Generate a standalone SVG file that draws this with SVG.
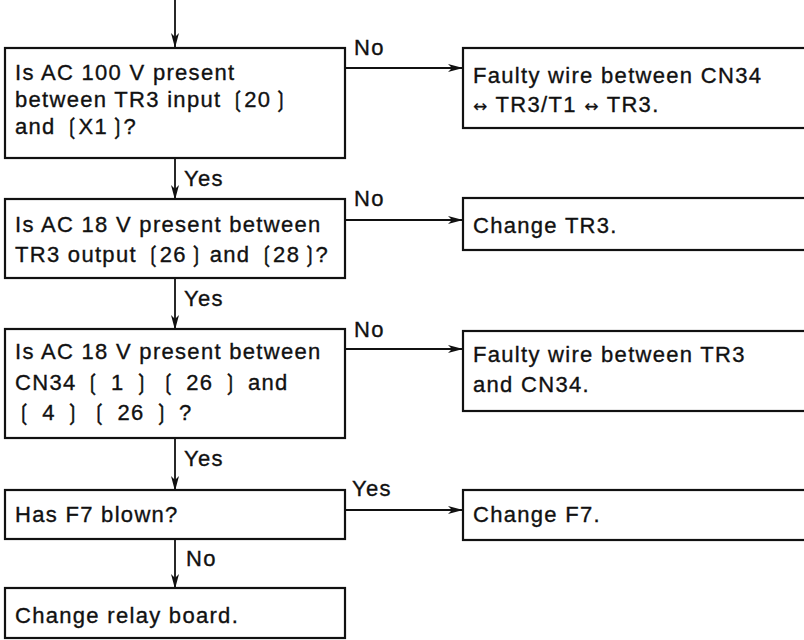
<svg xmlns="http://www.w3.org/2000/svg" width="804" height="640" viewBox="0 0 804 640">
<style>
  .box{fill:#fff;stroke:#111;stroke-width:2.2}
  text{font-family:"Liberation Sans",Arial,sans-serif;font-size:22px;letter-spacing:1.3px;fill:#111;stroke:#111;stroke-width:0.35}
  .b{font-family:"DejaVu Sans","Liberation Sans",sans-serif;font-size:22px}
  .t{font-family:"DejaVu Sans","Liberation Sans",sans-serif;font-size:22px;letter-spacing:-3px}
  .ar{font-family:"DejaVu Sans",sans-serif;font-size:17px;stroke-width:0.2}
  .ln{stroke:#111;stroke-width:1.8;fill:none}
</style>
<defs>
  <marker id="ah" markerWidth="15" markerHeight="8" refX="14" refY="4" orient="auto" markerUnits="userSpaceOnUse">
    <path d="M0,0 L15,4 L0,8 L4,4 Z" fill="#111"/>
  </marker>
</defs>
<rect width="804" height="640" fill="#fff"/>
<g id="connectors">
  <line class="ln" x1="175" y1="0" x2="175" y2="47" marker-end="url(#ah)"/>
  <line class="ln" x1="175" y1="158" x2="175" y2="199" marker-end="url(#ah)"/>
  <line class="ln" x1="175" y1="279" x2="175" y2="329" marker-end="url(#ah)"/>
  <line class="ln" x1="175" y1="439" x2="175" y2="490" marker-end="url(#ah)"/>
  <line class="ln" x1="175" y1="540" x2="175" y2="588" marker-end="url(#ah)"/>
  <line class="ln" x1="345" y1="68" x2="462" y2="68" marker-end="url(#ah)"/>
  <line class="ln" x1="345" y1="220" x2="462" y2="220" marker-end="url(#ah)"/>
  <line class="ln" x1="345" y1="349" x2="462" y2="349" marker-end="url(#ah)"/>
  <line class="ln" x1="345" y1="510" x2="462" y2="510" marker-end="url(#ah)"/>
  <text x="354" y="55">No</text>
  <text x="354" y="206">No</text>
  <text x="354" y="337">No</text>
  <text x="352" y="496">Yes</text>
  <text x="184" y="186">Yes</text>
  <text x="184" y="306">Yes</text>
  <text x="184" y="466">Yes</text>
  <text x="186" y="566">No</text>
</g>
<g id="q1">
  <rect class="box" x="5" y="48" width="340" height="110"/>
  <text x="15" y="80">Is AC 100 V present</text>
  <text x="15" y="107">between TR3 input <tspan class="t">❲</tspan>20<tspan class="t">❳</tspan></text>
  <text x="15" y="134">and <tspan class="t">❲</tspan>X1<tspan class="t">❳</tspan>?</text>
</g>
<g id="q2">
  <rect class="box" x="5" y="199" width="340" height="79"/>
  <text x="15" y="232">Is AC 18 V present between</text>
  <text x="15" y="262">TR3 output <tspan class="t">❲</tspan>26<tspan class="t">❳</tspan> and <tspan class="t">❲</tspan>28<tspan class="t">❳</tspan>?</text>
</g>
<g id="q3">
  <rect class="box" x="5" y="329" width="340" height="109"/>
  <text x="15" y="359">Is AC 18 V present between</text>
  <text x="15" y="390">CN34  <tspan class="b">❲</tspan> 1 <tspan class="b">❳</tspan> <tspan class="b">❲</tspan> 26 <tspan class="b">❳</tspan>  and</text>
  <text x="15" y="420"> <tspan class="b">❲</tspan> 4 <tspan class="b">❳</tspan> <tspan class="b">❲</tspan> 26 <tspan class="b">❳</tspan> ?</text>
</g>
<g id="q4">
  <rect class="box" x="5" y="490" width="340" height="49"/>
  <text x="15" y="522">Has F7 blown?</text>
</g>
<g id="a5">
  <rect class="box" x="5" y="588" width="340" height="50"/>
  <text x="15" y="623">Change relay board.</text>
</g>
<g id="r1">
  <rect class="box" x="463" y="48" width="350" height="80"/>
  <text x="473" y="83">Faulty wire between CN34</text>
  <text x="473" y="112"><tspan class="ar">↔</tspan> TR3/T1 <tspan class="ar">↔</tspan> TR3.</text>
</g>
<g id="r2">
  <rect class="box" x="463" y="198" width="350" height="52"/>
  <text x="473" y="233">Change TR3.</text>
</g>
<g id="r3">
  <rect class="box" x="463" y="331" width="350" height="80"/>
  <text x="473" y="362">Faulty wire between TR3</text>
  <text x="473" y="392">and CN34.</text>
</g>
<g id="r4">
  <rect class="box" x="463" y="490" width="350" height="50"/>
  <text x="473" y="522">Change F7.</text>
</g>
</svg>
